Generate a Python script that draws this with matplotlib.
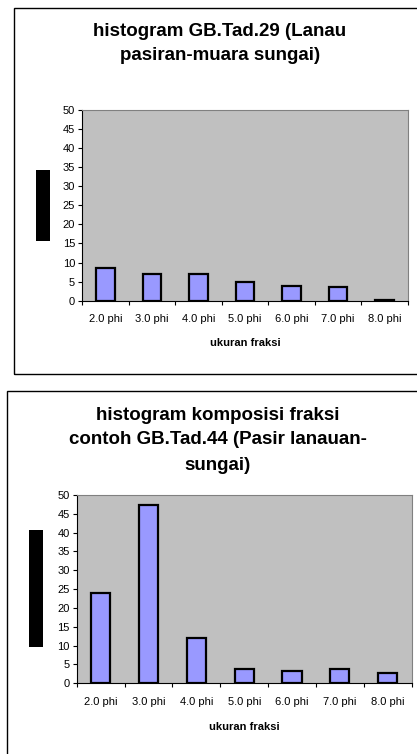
import matplotlib
matplotlib.use("Agg")
import matplotlib.pyplot as plt
from matplotlib.patches import Rectangle
import numpy as np

plt.rcParams['font.family'] = ['Liberation Sans', 'DejaVu Sans']

categories = ["2.0 phi", "3.0 phi", "4.0 phi", "5.0 phi", "6.0 phi", "7.0 phi", "8.0 phi"]
values_29 = [8.7, 7.0, 7.0, 4.8, 3.9, 3.5, 0.3]
values_44 = [24.0, 47.3, 12.0, 3.7, 3.2, 3.7, 2.8]
title_29 = "histogram GB.Tad.29 (Lanau\npasiran-muara sungai)"
title_44 = "histogram komposisi fraksi\ncontoh GB.Tad.44 (Pasir lanauan-\nsungai)"
xlabel = "ukuran fraksi"
yticks = list(range(0, 51, 5))

W, H = 417, 754
fig = plt.figure(figsize=(W / 100, H / 100), dpi=100)


def fx(x):
    return x / W


def fy(y):
    return 1 - y / H


def panel(box, ax_px, title, title_cx, title_ys, tick_y, xlabel_y, black, values):
    bx0, by0, bx1, by1 = box
    fig.add_artist(Rectangle((fx(bx0), fy(by1)), fx(bx1 - bx0), (by1 - by0) / H,
                             transform=fig.transFigure, fill=False,
                             edgecolor='black', linewidth=1.0))
    l, t, r, b = ax_px
    ax = fig.add_axes([fx(l), fy(b), fx(r - l), (b - t) / H])
    ax.set_facecolor('#C0C0C0')
    x = np.arange(len(categories))
    ax.bar(x, values, width=0.4, color='#9999FF', edgecolor='black', linewidth=1.6, zorder=3)
    ax.set_xlim(-0.5, len(categories) - 0.5)
    ax.set_ylim(0, 50)
    ax.set_yticks(yticks)
    ax.tick_params(axis='y', labelsize=8, length=3, width=0.8, pad=2)
    ax.set_xticks(x)
    ax.set_xticklabels([])
    ax.tick_params(axis='x', which='major', length=0)
    ax.set_xticks(np.arange(-0.5, len(categories), 1.0), minor=True)
    ax.tick_params(axis='x', which='minor', length=3, width=0.8, direction='out')
    for s in ['top', 'right']:
        ax.spines[s].set_color('#808080')
    for s in ['left', 'bottom']:
        ax.spines[s].set_color('black')
    for i, c in enumerate(categories):
        xd = ax.transData.transform((i, 0))[0]
        fig.text(xd / fig.dpi / fig.get_figwidth(), fy(tick_y), c, ha='center', va='center', fontsize=8)
    fig.text(fx((l + r) / 2), fy(xlabel_y), xlabel, ha='center', va='center',
             fontsize=8, fontweight='bold')
    for line, yy in zip(title.split('\n'), title_ys):
        fig.text(fx(title_cx), fy(yy), line, ha='center', va='center',
                 fontsize=13.5, fontweight='bold')
    kx0, ky0, kx1, ky1 = black
    fig.add_artist(Rectangle((fx(kx0), fy(ky1)), fx(kx1 - kx0), (ky1 - ky0) / H,
                             transform=fig.transFigure, facecolor='black', edgecolor='none'))


panel((14, 8, 420, 374), (82, 110, 408, 300.7), title_29, 220, [31, 55], 319, 343,
      (36, 170, 50, 240.7), values_29)
panel((7, 391, 420, 760), (76.7, 495, 411.7, 683.3), title_44, 218, [415, 440, 465], 702, 726.7,
      (29, 530, 42.7, 646.7), values_44)

fig.savefig("out.png", dpi=100)
